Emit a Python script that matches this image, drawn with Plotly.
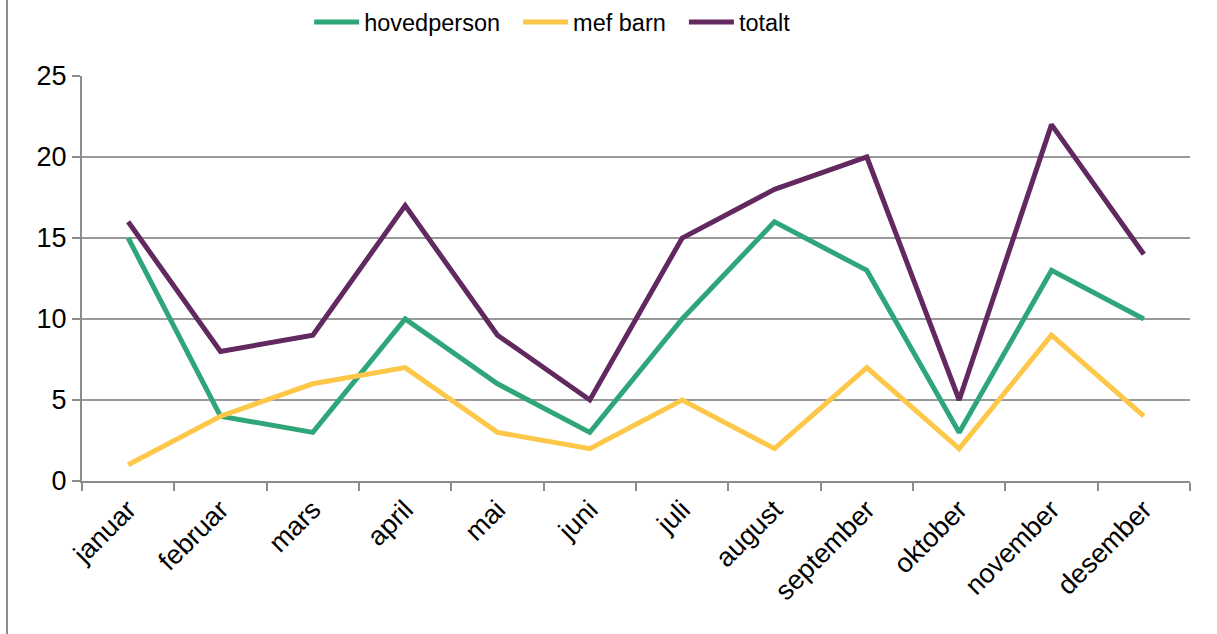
import plotly.graph_objects as go

# Monthly counts
months = ["januar", "februar", "mars", "april", "mai", "juni",
          "juli", "august", "september", "oktober", "november", "desember"]
hovedperson = [15, 4, 3, 10, 6, 3, 10, 16, 13, 3, 13, 10]
mef_barn = [1, 4, 6, 7, 3, 2, 5, 2, 7, 2, 9, 4]
totalt = [16, 8, 9, 17, 9, 5, 15, 18, 20, 5, 22, 14]

series = [
    ("hovedperson", hovedperson, "#2ea67a"),
    ("mef barn", mef_barn, "#fdc84a"),
    ("totalt", totalt, "#61295f"),
]

fig = go.Figure()
for i, (name, vals, color) in enumerate(series):
    # pad legend labels a bit so entries are spaced like the original
    label = name + ("\u00a0\u00a0" if i < len(series) - 1 else "")
    fig.add_trace(go.Scatter(
        x=months, y=vals, mode="lines", name=label,
        line=dict(color=color, width=5)
    ))

fig.update_layout(
    width=1217, height=634,
    margin=dict(l=82, r=27, t=76, b=153, autoexpand=False),
    paper_bgcolor="white", plot_bgcolor="white",
    font=dict(family="Liberation Sans, Arial, sans-serif", size=27, color="black"),
    legend=dict(orientation="h", x=0.205, xanchor="left", y=1.133, yanchor="middle",
                font=dict(size=23.5), itemwidth=45, tracegroupgap=0),
    showlegend=True,
)

fig.update_xaxes(
    type="category", range=[-0.5, 11.5], tickson="boundaries",
    ticks="outside", ticklen=8, tickcolor="#8c8c8c", tickwidth=2,
    showline=True, linecolor="#8c8c8c", linewidth=2,
    showgrid=False, tickangle=-45, tickfont=dict(size=27), automargin=False,
)
fig.update_yaxes(
    range=[0, 25], dtick=5, ticks="outside", ticklen=8,
    tickcolor="#8c8c8c", tickwidth=2,
    showline=True, linecolor="#8c8c8c", linewidth=2,
    showgrid=True, gridcolor="#999999", gridwidth=1.5,
    zeroline=False, tickfont=dict(size=27), automargin=False,
)

# outer left border of the chart frame
fig.add_shape(type="line", xref="paper", yref="paper",
              x0=-0.0677, x1=-0.0677, y0=-0.4, y1=1.2,
              line=dict(color="#8c8c8c", width=2))

# drop the page's default body margin so the figure sits at 0,0
fig.write_html("out.html", config={"displayModeBar": False},
               post_script="document.body.style.margin='0';")
